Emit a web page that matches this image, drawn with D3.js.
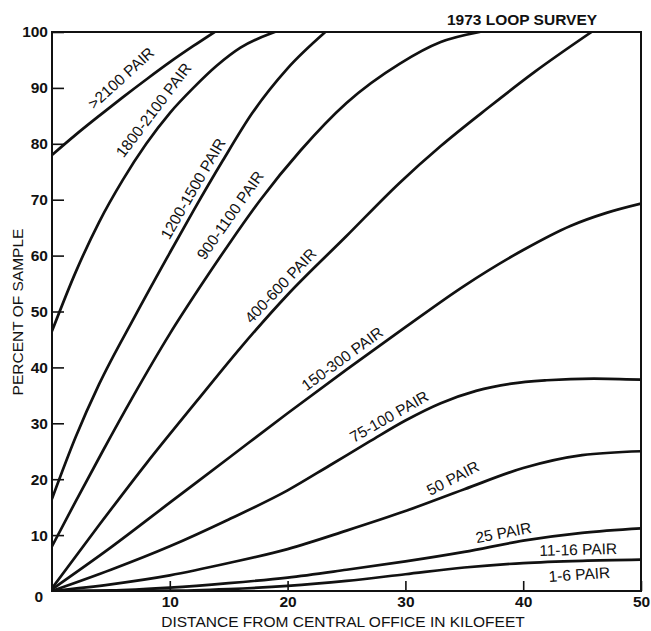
<!DOCTYPE html>
<html>
<head>
<meta charset="utf-8">
<title>1973 Loop Survey - cable size vs distance</title>
<style>
  body { margin: 0; background: #fff; }
  text { font-family: "Liberation Sans", Arial, sans-serif; fill: #111; }
  .curve { fill: none; stroke: #111; stroke-width: 2.7px; stroke-linejoin: round; stroke-linecap: round; }
  .frame { fill: none; stroke: #111; stroke-width: 2px; }
  .tick line { stroke: #111; stroke-width: 1.6px; }
  .tick text { font-size: 15.5px; font-weight: bold; }
  .clabel { font-size: 15.5px; }
</style>
</head>
<body>
<svg width="651" height="631"></svg>
<script src="https://d3js.org/d3.v7.min.js"></script>
<script>
// [distance kft, percent of sample]
var pairOver2100 = [[0,78],[2,81.6],[4,85],[6,88.3],[8,91.5],[10,94.6],[12,97.5],[13.8,100]];
var pair1800to2100 = [[0,46.5],[2,57],[4,66],[6,73.5],[8,80],[10,85.5],[12,90],[14,94],[16,97.2],[18.9,100]];
var pair1200to1500 = [[0,16.5],[2,27.5],[4,37],[7,49],[10,60.5],[12,68],[14.5,77],[17,85.5],[20,93.5],[23.2,100]];
var pair900to1100 = [[0,8],[2,16],[4.3,25],[6.8,34.5],[10,46],[12.6,54.5],[15,62],[17.7,70],[21.1,78.8],[25,87.3],[29.5,94.3],[33,98.2],[36.3,100]];
var pair400to600 = [[0,0.5],[4,11.8],[8,22.8],[12.3,34],[16,43.5],[20,53],[25,63.5],[29.5,73],[33,79.6],[37,86.4],[41,92.9],[45.8,100]];
var pair150to300 = [[0,0.3],[5,7.8],[10,15.8],[15,23.8],[20,31.8],[25,39.6],[30,47.2],[35,54.6],[40,61],[44,65.3],[47,67.6],[50,69.3]];
var pair75to100 = [[0,0],[5,3.8],[10,8],[15,12.8],[20,18],[23.6,22.5],[27,26.8],[30,30.5],[33,33.6],[36,35.8],[39,37.1],[42,37.7],[46,38],[50,37.8]];
var pair50 = [[0,0],[5,1.2],[10,2.8],[15,5],[20,7.5],[25,10.8],[30,14.3],[35,18.2],[40,22],[45,24.3],[50,25]];
var pair25 = [[0,0],[5,0.1],[10,0.6],[15,1.4],[20,2.4],[25,3.8],[30,5.3],[35,7],[40,9],[45,10.4],[50,11.2]];
var pair11to16 = [[0,0],[10,0.05],[15,0.35],[20,0.9],[25,1.8],[30,3],[35,4.2],[40,5],[45,5.4],[50,5.6]];

var seriesNames = [">2100 PAIR", "1800-2100 PAIR", "1200-1500 PAIR", "900-1100 PAIR", "400-600 PAIR",
                   "150-300 PAIR", "75-100 PAIR", "50 PAIR", "25 PAIR", "11-16 PAIR"];
var seriesData = [pairOver2100, pair1800to2100, pair1200to1500, pair900to1100, pair400to600,
                  pair150to300, pair75to100, pair50, pair25, pair11to16];
var xTicks = [10, 20, 30, 40, 50];
var yTicks = [10, 20, 30, 40, 50, 60, 70, 80, 90, 100];

var svg = d3.select("svg");
var plotL = 52, plotR = 641, plotT = 32, plotB = 591;

var x = d3.scaleLinear().domain([0, 50]).range([plotL, plotR]);
var y = d3.scaleLinear().domain([0, 100]).range([plotB, plotT]);

svg.append("defs").append("clipPath").attr("id", "plot")
  .append("rect").attr("x", plotL).attr("y", plotT).attr("width", plotR - plotL).attr("height", plotB - plotT);

// axes, ticks point inward
var yAxis = svg.append("g").attr("transform", "translate(" + plotL + ",0)")
  .call(d3.axisLeft(y).tickValues(yTicks).tickSize(-12).tickPadding(5));
yAxis.select(".domain").remove();
yAxis.selectAll(".tick text").attr("x", -4);

var xAxis = svg.append("g").attr("transform", "translate(0," + plotB + ")")
  .call(d3.axisBottom(x).tickValues(xTicks).tickSize(-10).tickPadding(4));
xAxis.select(".domain").remove();
xAxis.selectAll(".tick text").attr("y", 5);

svg.append("text").attr("x", plotL - 9).attr("y", plotB + 6)
  .attr("text-anchor", "end").attr("dy", "0.32em")
  .style("font-size", "15.5px").style("font-weight", "bold").text("0");

svg.append("rect").attr("class", "frame")
  .attr("x", plotL).attr("y", plotT).attr("width", plotR - plotL).attr("height", plotB - plotT);

// curves
var line = d3.line()
  .x(function(d) { return x(d[0]); })
  .y(function(d) { return y(d[1]); })
  .curve(d3.curveMonotoneX);

var paths = svg.append("g").attr("clip-path", "url(#plot)")
  .selectAll(".curve")
  .data(seriesData)
  .enter()
  .append("path")
  .attr("class", "curve")
  .attr("d", line);

// labels ride on their curves: [series index, distance along x, gap above line, extra tilt]
var labelSpots = [[0, 6.8, 11, -5], [1, 9.6, 9, -2], [2, 12.8, 6, 0], [3, 16.2, 10, 0], [4, 20.1, 6, 0],
                  [5, 25.2, 6, 0], [6, 29.1, 6, 0], [7, 34.6, 9, -7], [8, 38.5, 6, 0], [9, 44.7, 6, 0]];

function lengthAtX(node, px) {
  var lo = 0, hi = node.getTotalLength();
  for (var i = 0; i < 40; i++) {
    var mid = (lo + hi) / 2;
    if (node.getPointAtLength(mid).x < px) lo = mid; else hi = mid;
  }
  return lo;
}

labelSpots.forEach(function(s) {
  var node = paths.nodes()[s[0]];
  var l = lengthAtX(node, x(s[1]));
  var p = node.getPointAtLength(l);
  var a = node.getPointAtLength(Math.max(0, l - 20));
  var b = node.getPointAtLength(l + 20);
  var ang = Math.atan2(b.y - a.y, b.x - a.x) * 180 / Math.PI + s[3];
  svg.append("g")
    .attr("transform", "translate(" + p.x + "," + p.y + ") rotate(" + ang + ")")
    .append("text")
    .attr("class", "clabel")
    .attr("y", -s[2])
    .attr("text-anchor", "middle")
    .text(seriesNames[s[0]]);
});

// the 1-6 pair trace runs along the base line, so only its tag shows
svg.append("text").attr("class", "clabel")
  .attr("transform", "translate(" + x(44.8) + "," + y(2.0) + ") rotate(-4)")
  .attr("text-anchor", "middle")
  .text("1-6 PAIR");

svg.append("text").attr("x", 522).attr("y", 25)
  .attr("text-anchor", "middle")
  .style("font-size", "15.5px").style("font-weight", "bold")
  .text("1973 LOOP SURVEY");

svg.append("text").attr("x", 343).attr("y", 627)
  .attr("text-anchor", "middle")
  .style("font-size", "15.5px")
  .text("DISTANCE FROM CENTRAL OFFICE IN KILOFEET");

svg.append("text")
  .attr("transform", "translate(23,312) rotate(-90)")
  .attr("text-anchor", "middle")
  .style("font-size", "15.5px")
  .text("PERCENT OF SAMPLE");
</script>
</body>
</html>
